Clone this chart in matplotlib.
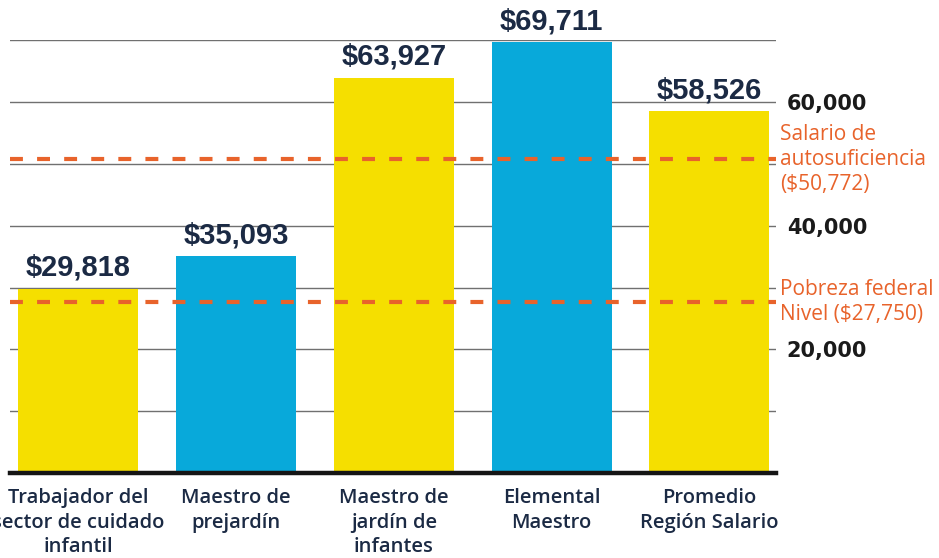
import matplotlib.pyplot as plt
from matplotlib.ticker import MultipleLocator, FuncFormatter

categories = ["Trabajador del\nsector de cuidado\ninfantil", "Maestro de\nprejardín",
              "Maestro de\njardín de\ninfantes", "Elemental\nMaestro", "Promedio\nRegión Salario"]
salaries = [29818, 35093, 63927, 69711, 58526]
bar_colors = ["#F5DF00", "#08A9DA", "#F5DF00", "#08A9DA", "#F5DF00"]

ref_values = [50772, 27750]
ref_labels = ["Salario de\nautosuficiencia\n($50,772)", "Pobreza federal\nNivel ($27,750)"]

navy = "#1B2A44"
orange = "#E8632B"

fig = plt.figure(figsize=(9.39, 5.58), dpi=100)
ax = fig.add_axes([0.011, 0.152, 0.815, 0.776])

x = range(len(salaries))
ax.bar(x, salaries, width=0.76, color=bar_colors, zorder=2)

for xi, v in zip(x, salaries):
    ax.annotate(f"${v:,}", (xi, v), xytext=(0, 5), textcoords="offset points",
                ha="center", va="bottom", fontsize=21, fontweight="bold",
                family="Liberation Sans", color=navy, annotation_clip=False)

for v, lab in zip(ref_values, ref_labels):
    ax.axhline(v, color=orange, lw=3, ls=(0, (3.1, 3.4)), zorder=3, clip_on=False)
    ax.text(1.006, v, lab, transform=ax.get_yaxis_transform(), ha="left", va="center",
            fontsize=15, color=orange, linespacing=1.25, family="Open Sans")

ax.set_xlim(-0.43, 4.42)
ax.set_ylim(0, 70000)
ax.yaxis.set_major_locator(MultipleLocator(20000))
ax.yaxis.set_minor_locator(MultipleLocator(10000))
ax.yaxis.set_major_formatter(FuncFormatter(lambda v, p: f"{int(v):,}" if v > 0 else ""))
ax.yaxis.tick_right()
ax.tick_params(axis="y", which="both", length=0, pad=8, labelsize=15, labelcolor="#1a1a1a")
for t in ax.get_yticklabels():
    t.set_fontweight("bold")
ax.grid(axis="y", which="both", color="#707070", lw=1, zorder=0)

ax.set_xticks(list(x))
ax.set_xticklabels(categories, fontsize=14.5, color=navy, linespacing=1.3,
                   family="Open Sans", fontweight="semibold")
ax.tick_params(axis="x", length=0, pad=11)

for s in ["top", "left", "right"]:
    ax.spines[s].set_visible(False)
ax.spines["bottom"].set_linewidth(3.2)
ax.spines["bottom"].set_color("#151515")
ax.spines["bottom"].set_zorder(4)

fig.savefig("out.png", dpi=100)
